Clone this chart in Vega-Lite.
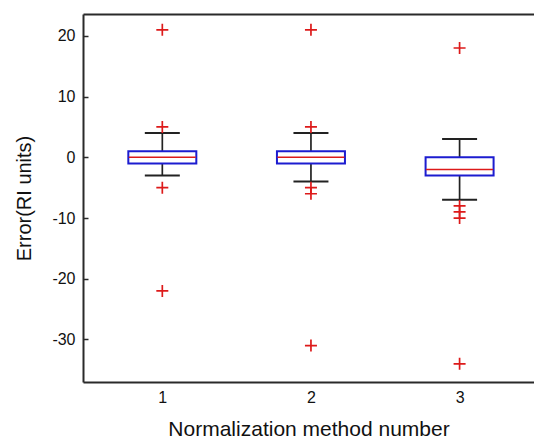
{
  "$schema": "https://vega.github.io/schema/vega-lite/v6.json",
  "width": 451,
  "height": 368,
  "autosize": {"type": "none"},
  "padding": {"left": 83, "top": 14, "right": 0, "bottom": 56},
  "background": "white",
  "config": {
    "view": {"stroke": null},
    "font": "Liberation Sans",
    "axis": {
      "grid": false,
      "domainColor": "#2a2a2a",
      "domainWidth": 2,
      "tickColor": "#2a2a2a",
      "tickWidth": 1.5,
      "labelColor": "#111111",
      "labelFontSize": 16,
      "titleColor": "#111111",
      "titleFontWeight": "normal"
    }
  },
  "datasets": {
    "boxes": [
      {"method": 1, "lower": -3, "q1": -1, "median": 0, "q3": 1, "upper": 4},
      {"method": 2, "lower": -4, "q1": -1, "median": 0, "q3": 1, "upper": 4},
      {"method": 3, "lower": -7, "q1": -3, "median": -2, "q3": 0, "upper": 3}
    ],
    "outliers": [
      {"method": 1, "value": 21},
      {"method": 1, "value": 5},
      {"method": 1, "value": -5},
      {"method": 1, "value": -22},
      {"method": 2, "value": 21},
      {"method": 2, "value": 5},
      {"method": 2, "value": -5},
      {"method": 2, "value": -6},
      {"method": 2, "value": -31},
      {"method": 3, "value": 18},
      {"method": 3, "value": -8},
      {"method": 3, "value": -9},
      {"method": 3, "value": -10},
      {"method": 3, "value": -34}
    ]
  },
  "resolve": {"axis": {"x": "independent", "y": "independent"}},
  "layer": [
    {
      "data": {"name": "boxes"},
      "mark": {"type": "rule", "color": "#222222", "strokeWidth": 1.7},
      "encoding": {
        "x": {
          "field": "method", "type": "quantitative",
          "scale": {"domain": [0.5, 3.467], "nice": false, "zero": false},
          "axis": {
            "orient": "bottom", "values": [1, 2, 3], "labelExpr": "toString(datum.value)",
            "ticks": false, "labelPadding": 7, "labelFontSize": 16,
            "title": "Normalization method number", "titleFontSize": 21, "titlePadding": 13
          }
        },
        "y": {
          "field": "q3", "type": "quantitative",
          "scale": {"domain": [-37.0, 23.6], "nice": false, "zero": false},
          "axis": {
            "orient": "left",
            "values": [-30, -20, -10, 0, 10, 20], "labelExpr": "toString(datum.value)",
            "ticks": false, "labelPadding": 8, "labelFontSize": 16,
            "title": "Error(RI units)", "titleFontSize": 20, "titlePadding": 17
          }
        },
        "y2": {"field": "upper"}
      }
    },
    {
      "data": {"name": "boxes"},
      "mark": {"type": "rule", "color": "#222222", "strokeWidth": 1.7},
      "encoding": {
        "x": {"field": "method", "type": "quantitative", "axis": null},
        "y": {
          "field": "lower", "type": "quantitative",
          "axis": {
            "orient": "left", "offset": -5, "values": [-30, -20, -10, 0, 10, 20],
            "domain": false, "labels": false, "ticks": true, "tickSize": 5, "title": null
          }
        },
        "y2": {"field": "q1"}
      }
    },
    {
      "data": {"name": "boxes"},
      "mark": {"type": "tick", "orient": "horizontal", "color": "#222222", "size": 35, "thickness": 2, "opacity": 1},
      "encoding": {
        "x": {"field": "method", "type": "quantitative", "axis": null},
        "y": {"field": "upper", "type": "quantitative", "axis": null}
      }
    },
    {
      "data": {"name": "boxes"},
      "mark": {"type": "tick", "orient": "horizontal", "color": "#222222", "size": 35, "thickness": 2, "opacity": 1},
      "encoding": {
        "x": {"field": "method", "type": "quantitative", "axis": null},
        "y": {"field": "lower", "type": "quantitative", "axis": null}
      }
    },
    {
      "data": {"name": "boxes"},
      "mark": {"type": "bar", "orient": "vertical", "size": 68, "fill": "white", "stroke": "#1c1cd0", "strokeWidth": 2},
      "encoding": {
        "x": {"field": "method", "type": "quantitative", "axis": null},
        "y": {"field": "q1", "type": "quantitative", "axis": null},
        "y2": {"field": "q3"}
      }
    },
    {
      "data": {"name": "boxes"},
      "mark": {"type": "tick", "orient": "horizontal", "color": "#dd1a1a", "size": 67, "thickness": 1.6, "opacity": 1},
      "encoding": {
        "x": {"field": "method", "type": "quantitative", "axis": null},
        "y": {"field": "median", "type": "quantitative", "axis": null}
      }
    },
    {
      "data": {"name": "outliers"},
      "mark": {"type": "point", "shape": "M-1,0L1,0M0,-1L0,1", "size": 144, "filled": false, "stroke": "#dd1a1a", "strokeWidth": 1.7, "opacity": 1},
      "encoding": {
        "x": {
          "field": "method", "type": "quantitative",
          "axis": {"orient": "top", "labels": false, "ticks": false, "title": null, "domain": true}
        },
        "y": {"field": "value", "type": "quantitative", "axis": null}
      }
    }
  ]
}
